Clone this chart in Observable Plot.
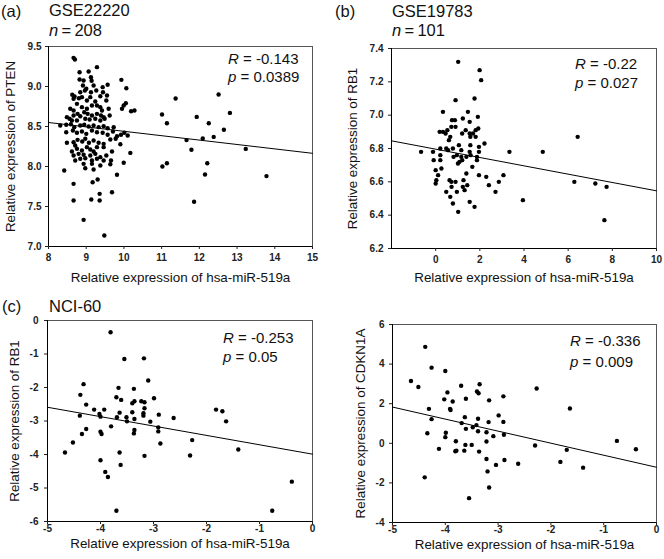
<!DOCTYPE html>
<html><head><meta charset="utf-8">
<script src="https://cdn.jsdelivr.net/npm/d3@7"></script>
<script src="https://cdn.jsdelivr.net/npm/@observablehq/plot@0.6"></script>
<style>
body{margin:0;background:#fff;}
#wrap{position:relative;width:664px;height:559px;overflow:hidden;font-family:"Liberation Sans",Arial,sans-serif;}
.panel{position:absolute;}
#overlay{position:absolute;left:0;top:0;pointer-events:none;}
</style></head>
<body><div id="wrap"></div>
<script>
// ---------- Data ----------
const xLabel = "Relative expression of hsa-miR-519a";

// (a) GSE22220: [miR-519a, PTEN]
const pointsA = [
[8.665,9.358],[8.700,9.338],[9.285,9.242],[8.824,9.179],[9.064,9.187],[9.126,9.117],[8.824,9.087],[8.931,9.075],
[9.143,9.071],[9.932,9.083],[8.913,9.013],[9.002,8.971],[9.196,9.013],[9.436,8.992],[9.568,9.021],[8.630,8.896],
[8.692,8.875],[8.842,8.929],[8.966,8.950],[9.126,8.929],[9.267,8.950],[9.445,8.929],[10.064,8.979],[8.665,8.846],
[8.807,8.854],[8.886,8.867],[9.108,8.867],[9.374,8.879],[9.551,8.887],[9.533,8.825],[9.019,8.825],[9.241,8.812],
[8.754,8.783],[8.886,8.742],[9.019,8.721],[9.152,8.762],[9.285,8.762],[9.374,8.742],[9.418,8.700],[9.595,8.721],
[8.576,8.721],[8.665,8.700],[9.994,8.762],[9.949,8.721],[8.488,8.617],[8.559,8.596],[8.665,8.637],[8.771,8.658],
[8.842,8.629],[8.948,8.679],[9.037,8.658],[9.152,8.637],[9.285,8.658],[9.391,8.637],[9.462,8.617],[9.622,8.637],
[8.621,8.575],[8.754,8.575],[8.975,8.596],[9.090,8.587],[9.241,8.596],[9.374,8.575],[9.489,8.596],[8.311,8.512],
[8.470,8.521],[8.594,8.529],[8.683,8.492],[8.842,8.512],[8.948,8.521],[9.064,8.500],[9.196,8.512],[9.329,8.492],
[9.462,8.504],[9.568,8.479],[9.728,8.492],[8.470,8.429],[8.647,8.450],[8.754,8.421],[8.886,8.437],[9.002,8.408],
[9.152,8.450],[9.285,8.429],[9.436,8.421],[9.568,8.396],[9.710,8.437],[9.816,8.379],[9.923,8.396],[10.011,8.421],
[10.100,8.387],[8.488,8.296],[8.665,8.304],[8.771,8.333],[8.895,8.312],[8.975,8.346],[9.072,8.296],[9.196,8.325],
[9.329,8.296],[9.462,8.283],[9.639,8.337],[9.781,8.346],[9.905,8.279],[8.709,8.262],[8.621,8.187],[8.754,8.221],
[8.886,8.200],[9.019,8.242],[9.108,8.212],[9.196,8.187],[9.285,8.242],[9.462,8.242],[9.684,8.187],[8.665,8.137],
[8.798,8.158],[8.931,8.146],[9.108,8.137],[9.241,8.158],[9.374,8.117],[9.533,8.137],[8.709,8.075],[8.842,8.096],
[8.975,8.104],[9.152,8.075],[9.285,8.096],[9.462,8.075],[9.657,8.075],[9.994,8.046],[8.931,8.033],[9.152,8.033],
[8.417,7.950],[8.975,7.979],[9.374,8.012],[9.639,8.029],[9.196,7.962],[9.816,7.896],[8.665,7.783],[9.170,7.804],
[9.303,7.837],[9.356,7.658],[9.684,7.679],[8.665,7.575],[9.134,7.587],[9.356,7.575],[8.931,7.333],[9.480,7.137],
[10.17,8.17],[10.19,8.69],[10.28,8.70],[10.05,8.79],
[11.01,8.65],[11.14,8.54],[11.37,8.85],[11.02,8.00],[11.14,8.04],[11.66,8.33],[11.79,8.21],[11.93,8.62],
[11.86,7.56],[12.09,8.35],[12.15,7.90],[12.21,8.04],[12.25,8.54],[12.38,8.37],[12.51,8.90],[12.65,8.46],
[12.81,8.67],[13.23,8.22],[13.78,7.88]
];
const fitA = [[8, 8.55], [15, 8.165]];
const xTicksA = [8, 9, 10, 11, 12, 13, 14, 15];
const yTicksA = [7.0, 7.5, 8.0, 8.5, 9.0, 9.5];

// (b) GSE19783: [miR-519a, RB1]
const pointsB = [
[-0.66,6.78],[-0.12,6.78],[-0.09,6.73],[0.0,6.67],[0.03,6.61],[0.0,6.59],[0.11,6.64],[0.21,6.80],[0.21,6.76],
[0.21,6.73],[0.26,6.68],[0.18,6.90],[0.33,6.90],[0.33,7.02],[0.45,6.89],[0.53,6.91],[0.48,6.80],[0.56,6.79],
[0.60,6.85],[0.66,6.87],[0.71,6.93],[0.74,6.97],[0.87,6.97],[0.90,6.93],[0.90,7.09],[0.78,6.80],[0.81,6.75],
[0.48,6.54],[0.63,6.61],[0.71,6.60],[0.72,6.57],[0.66,6.51],[0.78,6.47],[0.90,6.60],[0.96,6.54],[1.02,6.42],
[1.02,7.32],[0.96,6.76],[1.01,6.71],[1.08,6.72],[1.16,6.75],[1.05,6.82],[1.16,6.79],[1.20,6.89],[1.23,6.98],
[1.20,6.73],[1.26,6.61],[1.31,6.55],[1.23,6.57],[1.36,6.91],[1.39,6.75],[1.39,6.65],[1.43,6.58],[1.46,7.02],
[1.54,6.96],[1.54,6.89],[1.57,6.87],[1.57,6.82],[1.54,6.78],[1.54,6.48],[1.58,6.76],[1.69,6.89],[1.76,7.10],
[1.81,6.87],[1.81,6.91],[1.66,6.69],[1.76,6.45],[1.87,6.75],[1.87,6.73],[1.93,6.92],[1.91,6.99],[1.96,6.81],
[1.96,6.78],[1.99,7.27],[2.06,7.21],[1.96,6.64],[2.21,6.83],[2.29,6.63],[2.41,6.58],[2.86,6.60],[2.71,6.54],
[3.07,6.64],[3.34,6.78],[3.95,6.49],[4.85,6.78],[6.28,6.60],[6.43,6.87],[7.23,6.59],[7.64,6.37],[7.74,6.57]
];
const fitB = [[-2, 6.846], [10, 6.546]];
const xTicksB = [0, 2, 4, 6, 8, 10];
const yTicksB = [6.2, 6.4, 6.6, 6.8, 7.0, 7.2, 7.4];

// (c) NCI-60: [miR-519a, RB1]
const pointsC = [
[-3.81,-0.35],[-3.55,-1.15],[-3.18,-1.13],[-3.10,-1.79],[-4.32,-1.90],[-4.38,-2.22],[-4.27,-2.51],[-4.12,-2.66],
[-3.93,-2.66],[-4.39,-2.84],[-4.02,-2.79],[-4.00,-2.87],[-3.66,-2.01],[-3.37,-2.04],[-3.70,-2.29],[-3.61,-2.37],
[-3.64,-2.75],[-3.69,-2.89],[-3.40,-2.47],[-3.36,-2.41],[-3.40,-2.74],[-3.36,-2.94],[-3.51,-2.89],[-3.50,-3.01],
[-3.23,-2.41],[-3.19,-2.77],[-3.19,-2.84],[-3.17,-2.44],[-3.17,-2.62],[-2.99,-2.32],[-3.06,-3.02],[-2.90,-2.81],
[-2.91,-3.19],[-2.91,-3.31],[-2.62,-2.91],[-2.87,-3.67],[-3.17,-4.04],[-3.36,-3.27],[-3.37,-3.37],[-3.80,-3.16],
[-4.00,-3.32],[-3.98,-3.39],[-4.27,-3.24],[-4.35,-3.39],[-4.52,-3.64],[-4.67,-3.94],[-4.00,-4.17],[-3.64,-3.94],
[-3.62,-4.31],[-3.91,-4.52],[-3.86,-4.67],[-3.70,-5.68],[-2.27,-3.57],[-2.31,-4.03],[-1.82,-2.66],[-1.70,-2.71],
[-1.63,-3.01],[-1.40,-3.85],[-0.76,-5.68],[-0.39,-4.81]
];
const fitC = [[-5, -2.59], [0, -3.99]];
const xTicksCD = [-5, -4, -3, -2, -1, 0];
const yTicksC = [-6, -5, -4, -3, -2, -1, 0];

// (d) NCI-60: [miR-519a, CDKN1A]
const pointsD = [
[-4.65,3.15],[-4.51,2.84],[-4.38,4.87],[-4.26,3.82],[-4.31,1.74],[-4.26,1.22],[-4.34,0.51],[-4.39,-1.72],
[-4.12,-0.28],[-4.02,2.22],[-4.00,3.65],[-3.96,2.57],[-3.91,1.74],[-3.90,1.68],[-3.86,2.11],[-3.99,0.53],
[-4.00,0.31],[-3.80,0.10],[-3.79,-0.37],[-3.81,-0.40],[-3.69,1.02],[-3.70,2.91],[-3.64,-0.37],[-3.62,-0.08],
[-3.63,1.32],[-3.61,2.25],[-3.61,0.73],[-3.55,-2.77],[-3.48,0.81],[-3.50,-0.08],[-3.40,2.62],[-3.37,2.53],
[-3.35,2.98],[-3.38,1.24],[-3.38,0.61],[-3.41,0.92],[-3.36,-0.42],[-3.22,-0.79],[-3.22,0.56],[-3.22,0.09],
[-3.20,-1.42],[-3.17,-2.23],[-3.18,1.07],[-3.17,2.17],[-3.09,0.36],[-3.04,-1.09],[-2.99,1.41],[-2.90,1.08],
[-2.90,2.37],[-2.89,0.43],[-2.88,-0.84],[-2.62,-1.03],[-2.30,-0.11],[-2.27,2.77],[-1.82,-0.94],[-1.70,-0.33],
[-1.64,1.76],[-1.39,-1.23],[-0.75,0.12],[-0.39,-0.30]
];
const fitD = [[-5, 1.83], [0, -1.21]];
const yTicksD = [-4, -2, 0, 2, 4, 6];

// ---------- Rendering ----------
const FONT = '"Liberation Sans", Arial, sans-serif';
const wrap = document.getElementById("wrap");

function panel(cfg) {
  const p = Plot.plot({
    width: cfg.width, height: cfg.height,
    marginTop: cfg.mt, marginBottom: cfg.mb, marginLeft: cfg.ml, marginRight: cfg.mr,
    style: {fontFamily: FONT, fontSize: "10px", color: "#222", background: "transparent", overflow: "visible"},
    x: {domain: cfg.xDomain, label: null},
    y: {domain: cfg.yDomain, label: null},
    marks: [
      Plot.frame({stroke: "#555", strokeWidth: 1}),
      Plot.ruleX([cfg.xDomain[0]], {stroke: "#000"}),
      Plot.ruleY([cfg.yDomain[0]], {stroke: "#000"}),
      Plot.axisX({ticks: cfg.xTicks, tickFormat: d => String(d), tickSize: 3, tickPadding: cfg.xPad, label: null, fontWeight: "bold", fill: "#222"}),
      Plot.axisY({ticks: cfg.yTicks, tickFormat: cfg.yFmt, tickSize: 3, tickPadding: cfg.yPad, label: null, fontWeight: "bold", fill: "#222"}),
      Plot.line(cfg.fit, {x: d => d[0], y: d => d[1], stroke: "#000", strokeWidth: 1}),
      Plot.dot(cfg.points, {x: d => d[0], y: d => d[1], r: 2.2, fill: "#000"}),
      Plot.text([cfg.yLabel], {text: d => d, frameAnchor: "left", textAnchor: "middle", lineAnchor: "middle", rotate: -90, dx: cfg.yLabDx, fontSize: 13.4, fill: "#111"}),
      Plot.text([xLabel], {text: d => d, frameAnchor: "bottom", textAnchor: "middle", lineAnchor: "middle", dy: cfg.xLabDy, fontSize: 13.4, fill: "#111"})
    ]
  });
  const div = document.createElement("div");
  div.className = "panel";
  div.style.left = cfg.left + "px";
  div.style.top = cfg.top + "px";
  div.appendChild(p);
  wrap.appendChild(div);
}

const fmt1 = d3.format(".1f");
const fmtInt = d => String(d);

panel({left: 0, top: 40, width: 332, height: 250, mt: 6, mb: 44, ml: 48, mr: 20,
  xDomain: [8, 15], yDomain: [7, 9.5], xTicks: xTicksA, yTicks: yTicksA, yFmt: fmt1,
  xPad: 4, yPad: 4, points: pointsA, fit: fitA, yLabel: "Relative expression of PTEN", yLabDx: -38, xLabDy: 31});
panel({left: 332, top: 40, width: 332, height: 250, mt: 8, mb: 42, ml: 59, mr: 8,
  xDomain: [-2, 10], yDomain: [6.2, 7.4], xTicks: xTicksB, yTicks: yTicksB, yFmt: fmt1,
  xPad: 4, yPad: 5, points: pointsB, fit: fitB, yLabel: "Relative expression of RB1", yLabDx: -39, xLabDy: 29});
panel({left: 0, top: 300, width: 332, height: 259, mt: 20, mb: 38, ml: 47, mr: 20,
  xDomain: [-5, 0], yDomain: [-6, 0], xTicks: xTicksCD, yTicks: yTicksC, yFmt: fmtInt,
  xPad: 0, yPad: 6, points: pointsC, fit: fitC, yLabel: "Relative expression of RB1", yLabDx: -33, xLabDy: 22});
panel({left: 332, top: 300, width: 332, height: 259, mt: 24, mb: 37, ml: 60, mr: 8,
  xDomain: [-5, 0], yDomain: [-4, 6], xTicks: xTicksCD, yTicks: yTicksD, yFmt: fmtInt,
  xPad: 0, yPad: 5, points: pointsD, fit: fitD, yLabel: "Relative expression of CDKN1A", yLabDx: -32, xLabDy: 22});

// ---------- Titles & statistics overlay ----------
const titles = [
  {x: 1, y: 17, parts: [["(a)", false]]},
  {x: 49, y: 16, parts: [["GSE22220", false]]},
  {x: 49, y: 36, parts: [["n", true], ["\u2009=\u2009208", false]]},
  {x: 335, y: 17, parts: [["(b)", false]]},
  {x: 392, y: 17, parts: [["GSE19783", false]]},
  {x: 392, y: 36, parts: [["n", true], ["\u2009=\u2009101", false]]},
  {x: 2, y: 312, parts: [["(c)", false]]},
  {x: 49, y: 312, parts: [["NCI-60", false]]}
];
const stats = [
  {x: 228, y: 64, parts: [["R", true], [" = -0.143", false]]},
  {x: 228, y: 82, parts: [["p", true], [" = 0.0389", false]]},
  {x: 575, y: 69, parts: [["R", true], [" = -0.22", false]]},
  {x: 575, y: 88, parts: [["p", true], [" = 0.027", false]]},
  {x: 223, y: 343, parts: [["R", true], [" = -0.253", false]]},
  {x: 223, y: 362, parts: [["p", true], [" = 0.05", false]]},
  {x: 570, y: 346, parts: [["R", true], [" = -0.336", false]]},
  {x: 570, y: 367, parts: [["p", true], [" = 0.009", false]]}
];
const svg = d3.select(wrap).append("svg").attr("id", "overlay")
  .attr("width", 664).attr("height", 559).style("font-family", FONT);
function addText(list, size) {
  list.forEach(t => {
    const el = svg.append("text").attr("x", t.x).attr("y", t.y)
      .attr("font-size", size).attr("fill", "#111");
    t.parts.forEach(([s, it]) => el.append("tspan").attr("font-style", it ? "italic" : "normal").text(s));
  });
}
addText(titles, 16.5);
addText(stats, 15);
</script>
</body></html>
